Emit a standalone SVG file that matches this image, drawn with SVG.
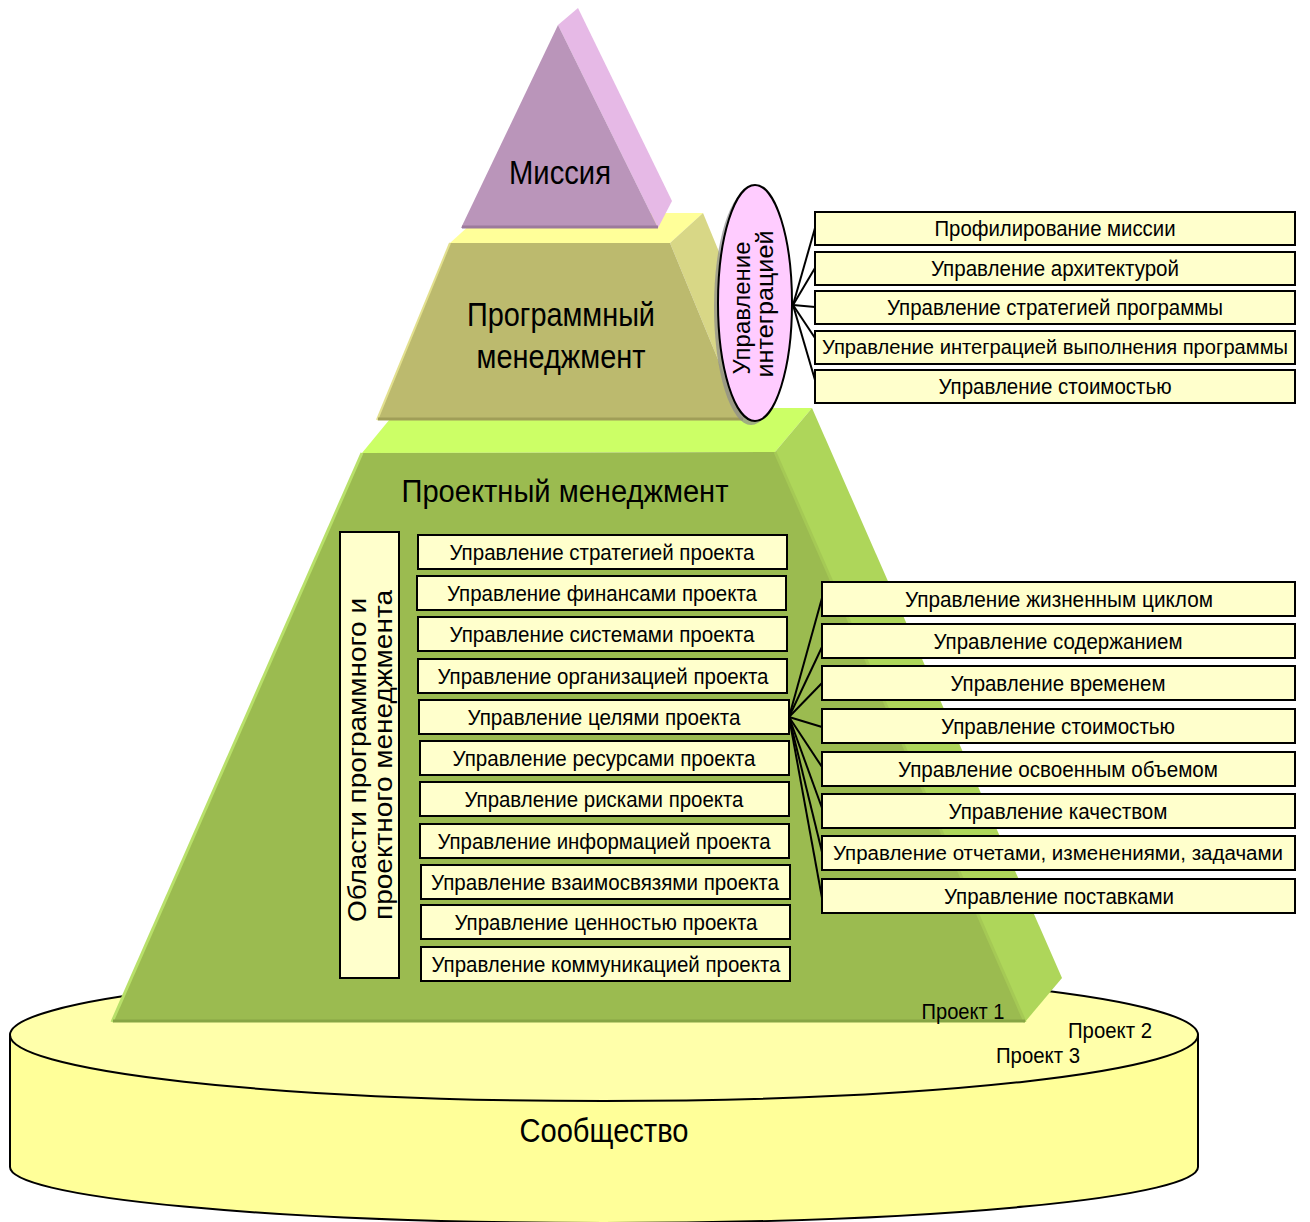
<svg xmlns="http://www.w3.org/2000/svg" width="1310" height="1222" viewBox="0 0 1310 1222">
  <style>
    text { font-family: "Liberation Sans", Arial, sans-serif; fill: #000; }
    .big { font-size: 33px; text-anchor: middle; }
    .lbl { font-size: 22px; text-anchor: middle; }
    .lbl.long { font-size: 20px; }
    .vert { font-size: 23px; text-anchor: middle; }
    .box { fill: #FFFFCC; stroke: #000; stroke-width: 2; }
    .conn line { stroke: #000; stroke-width: 2; }
  </style>

  <!-- Base cylinder: community -->
  <g id="community">
    <path d="M10,1035 L10,1167 A594,56 0 0 0 1198,1167 L1198,1035 Z" fill="#FFFF99" stroke="#000" stroke-width="2"/>
    <ellipse cx="604" cy="1035" rx="594" ry="66" fill="#FFFFAA" stroke="#000" stroke-width="2"/>
    <text class="big" x="604" y="1142" textLength="169" lengthAdjust="spacingAndGlyphs">Сообщество</text>
  </g>

  <!-- Project management tier -->
  <g id="project-tier">
    <polygon points="362,453 399,408 812,408 775,452" fill="#CCFF66"/>
    <polygon points="775,452 812,408 1062,978 1025,1022" fill="#AED65A"/>
    <polygon points="362,453 775,452 1025,1022 112,1022" fill="#9BBB50"/>
    <line x1="362" y1="453" x2="112" y2="1022" stroke="#B8E06A" stroke-width="3"/>
    <line x1="775" y1="452" x2="1025" y2="1022" stroke="#A5C955" stroke-width="3"/>
    <line x1="113" y1="1021" x2="1025" y2="1021" stroke="#87A545" stroke-width="3"/>
    <text class="big" x="565" y="502" style="font-size:31px" textLength="327" lengthAdjust="spacingAndGlyphs">Проектный менеджмент</text>
  </g>

  <!-- Project labels on the base -->
  <g id="project-labels">
    <text class="lbl" x="963" y="1019" textLength="83" lengthAdjust="spacingAndGlyphs">Проект 1</text>
    <text class="lbl" x="1110" y="1038" textLength="84" lengthAdjust="spacingAndGlyphs">Проект 2</text>
    <text class="lbl" x="1038" y="1063" textLength="84" lengthAdjust="spacingAndGlyphs">Проект 3</text>
  </g>

  <!-- Program management tier -->
  <g id="program-tier">
    <polygon points="450,243 483,213 703,213 670,243" fill="#FFFF99"/>
    <polygon points="670,243 703,213 776,390 743,420" fill="#D8D786"/>
    <polygon points="450,243 670,243 743,420 377,420" fill="#BCBA6E"/>
    <line x1="450" y1="243" x2="377" y2="420" stroke="#E2E08E" stroke-width="2"/>
    <line x1="378" y1="419" x2="743" y2="419" stroke="#A09E58" stroke-width="3"/>
    <text class="big" x="561" y="326" textLength="188" lengthAdjust="spacingAndGlyphs">Программный</text>
    <text class="big" x="561" y="368" textLength="169" lengthAdjust="spacingAndGlyphs">менеджмент</text>
  </g>

  <!-- Mission tier -->
  <g id="mission">
    <polygon points="558,25 578,8 672,201 658,228" fill="#E6B9E6"/>
    <polygon points="461,228 558,25 658,228" fill="#BA95BA"/>
    <line x1="462" y1="227" x2="658" y2="227" stroke="#9C7A9C" stroke-width="3"/>
    <text class="big" x="560" y="184" textLength="102" lengthAdjust="spacingAndGlyphs">Миссия</text>
  </g>

  <!-- Integration management ellipse -->
  <g id="integration">
    <ellipse cx="751" cy="307" rx="37" ry="118" fill="#8C8C8C" opacity="0.7"/>
    <ellipse cx="755" cy="303" rx="37" ry="118" fill="#FFCCFF" stroke="#000" stroke-width="2"/>
    <text class="vert" transform="translate(750,308) rotate(-90)" textLength="133" lengthAdjust="spacingAndGlyphs">Управление</text>
    <text class="vert" transform="translate(773,304) rotate(-90)" textLength="147" lengthAdjust="spacingAndGlyphs">интеграцией</text>
  </g>

  <!-- Connectors -->
  <g id="connectors" class="conn">
    <line x1="793" y1="305" x2="815" y2="228"/>
    <line x1="793" y1="305" x2="815" y2="268"/>
    <line x1="793" y1="305" x2="815" y2="307"/>
    <line x1="793" y1="305" x2="815" y2="338"/>
    <line x1="793" y1="305" x2="815" y2="380"/>
    <line x1="789" y1="717" x2="822" y2="598"/>
    <line x1="789" y1="717" x2="822" y2="647"/>
    <line x1="789" y1="717" x2="822" y2="683"/>
    <line x1="789" y1="717" x2="822" y2="727"/>
    <line x1="789" y1="717" x2="822" y2="767"/>
    <line x1="789" y1="717" x2="822" y2="808"/>
    <line x1="789" y1="717" x2="822" y2="852"/>
    <line x1="789" y1="717" x2="822" y2="898"/>
  </g>

  <!-- Program management areas -->
  <g id="program-areas">
    <g id="pa-1"><rect class="box" x="815" y="212" width="480" height="33"/><text class="lbl" x="1055" y="236" textLength="241" lengthAdjust="spacingAndGlyphs">Профилирование миссии</text></g>
    <g id="pa-2"><rect class="box" x="815" y="252" width="480" height="33"/><text class="lbl" x="1055" y="276" textLength="248" lengthAdjust="spacingAndGlyphs">Управление архитектурой</text></g>
    <g id="pa-3"><rect class="box" x="815" y="291" width="480" height="33"/><text class="lbl" x="1055" y="315" textLength="336" lengthAdjust="spacingAndGlyphs">Управление стратегией программы</text></g>
    <g id="pa-4"><rect class="box" x="815" y="331" width="480" height="33"/><text class="lbl long" x="1055" y="354" textLength="466" lengthAdjust="spacingAndGlyphs">Управление интеграцией выполнения программы</text></g>
    <g id="pa-5"><rect class="box" x="815" y="370" width="480" height="33"/><text class="lbl" x="1055" y="394" textLength="233" lengthAdjust="spacingAndGlyphs">Управление стоимостью</text></g>
  </g>

  <!-- Areas of program and project management -->
  <g id="areas-title">
    <rect class="box" x="340" y="532" width="59" height="446"/>
    <text class="vert" style="font-size:25px" transform="translate(366,760) rotate(-90)" textLength="324" lengthAdjust="spacingAndGlyphs">Области программного и</text>
    <text class="vert" style="font-size:25px" transform="translate(392,755) rotate(-90)" textLength="330" lengthAdjust="spacingAndGlyphs">проектного менеджмента</text>
  </g>

  <g id="project-areas">
    <g id="pr-1"><rect class="box" x="418" y="535" width="369" height="34"/><text class="lbl" x="602" y="560" textLength="305" lengthAdjust="spacingAndGlyphs">Управление стратегией проекта</text></g>
    <g id="pr-2"><rect class="box" x="417" y="576" width="369" height="34"/><text class="lbl" x="602" y="601" textLength="310" lengthAdjust="spacingAndGlyphs">Управление финансами проекта</text></g>
    <g id="pr-3"><rect class="box" x="418" y="617" width="369" height="34"/><text class="lbl" x="602" y="642" textLength="305" lengthAdjust="spacingAndGlyphs">Управление системами проекта</text></g>
    <g id="pr-4"><rect class="box" x="418" y="659" width="369" height="34"/><text class="lbl" x="603" y="684" textLength="331" lengthAdjust="spacingAndGlyphs">Управление организацией проекта</text></g>
    <g id="pr-5"><rect class="box" x="419" y="700" width="370" height="34"/><text class="lbl" x="604" y="725" textLength="273" lengthAdjust="spacingAndGlyphs">Управление целями проекта</text></g>
    <g id="pr-6"><rect class="box" x="420" y="741" width="369" height="34"/><text class="lbl" x="604" y="766" textLength="303" lengthAdjust="spacingAndGlyphs">Управление ресурсами проекта</text></g>
    <g id="pr-7"><rect class="box" x="420" y="782" width="369" height="34"/><text class="lbl" x="604" y="807" textLength="279" lengthAdjust="spacingAndGlyphs">Управление рисками проекта</text></g>
    <g id="pr-8"><rect class="box" x="420" y="824" width="369" height="34"/><text class="lbl" x="604" y="849" textLength="333" lengthAdjust="spacingAndGlyphs">Управление информацией проекта</text></g>
    <g id="pr-9"><rect class="box" x="421" y="865" width="369" height="34"/><text class="lbl" x="605" y="890" textLength="348" lengthAdjust="spacingAndGlyphs">Управление взаимосвязями проекта</text></g>
    <g id="pr-10"><rect class="box" x="421" y="905" width="369" height="34"/><text class="lbl" x="606" y="930" textLength="303" lengthAdjust="spacingAndGlyphs">Управление ценностью проекта</text></g>
    <g id="pr-11"><rect class="box" x="421" y="947" width="369" height="34"/><text class="lbl" x="606" y="972" textLength="349" lengthAdjust="spacingAndGlyphs">Управление коммуникацией проекта</text></g>
  </g>

  <!-- Goal management sub-areas -->
  <g id="goal-areas">
    <g id="ga-1"><rect class="box" x="822" y="582" width="473" height="34"/><text class="lbl" x="1059" y="607" textLength="308" lengthAdjust="spacingAndGlyphs">Управление жизненным циклом</text></g>
    <g id="ga-2"><rect class="box" x="822" y="624" width="473" height="34"/><text class="lbl" x="1058" y="649" textLength="249" lengthAdjust="spacingAndGlyphs">Управление содержанием</text></g>
    <g id="ga-3"><rect class="box" x="822" y="666" width="473" height="34"/><text class="lbl" x="1058" y="691" textLength="215" lengthAdjust="spacingAndGlyphs">Управление временем</text></g>
    <g id="ga-4"><rect class="box" x="822" y="709" width="473" height="34"/><text class="lbl" x="1058" y="734" textLength="234" lengthAdjust="spacingAndGlyphs">Управление стоимостью</text></g>
    <g id="ga-5"><rect class="box" x="822" y="752" width="473" height="34"/><text class="lbl" x="1058" y="777" textLength="320" lengthAdjust="spacingAndGlyphs">Управление освоенным объемом</text></g>
    <g id="ga-6"><rect class="box" x="822" y="794" width="473" height="34"/><text class="lbl" x="1058" y="819" textLength="219" lengthAdjust="spacingAndGlyphs">Управление качеством</text></g>
    <g id="ga-7"><rect class="box" x="822" y="836" width="473" height="34"/><text class="lbl long" x="1058" y="860" textLength="450" lengthAdjust="spacingAndGlyphs">Управление отчетами, изменениями, задачами</text></g>
    <g id="ga-8"><rect class="box" x="822" y="879" width="473" height="34"/><text class="lbl" x="1059" y="904" textLength="230" lengthAdjust="spacingAndGlyphs">Управление поставками</text></g>
  </g>
</svg>
